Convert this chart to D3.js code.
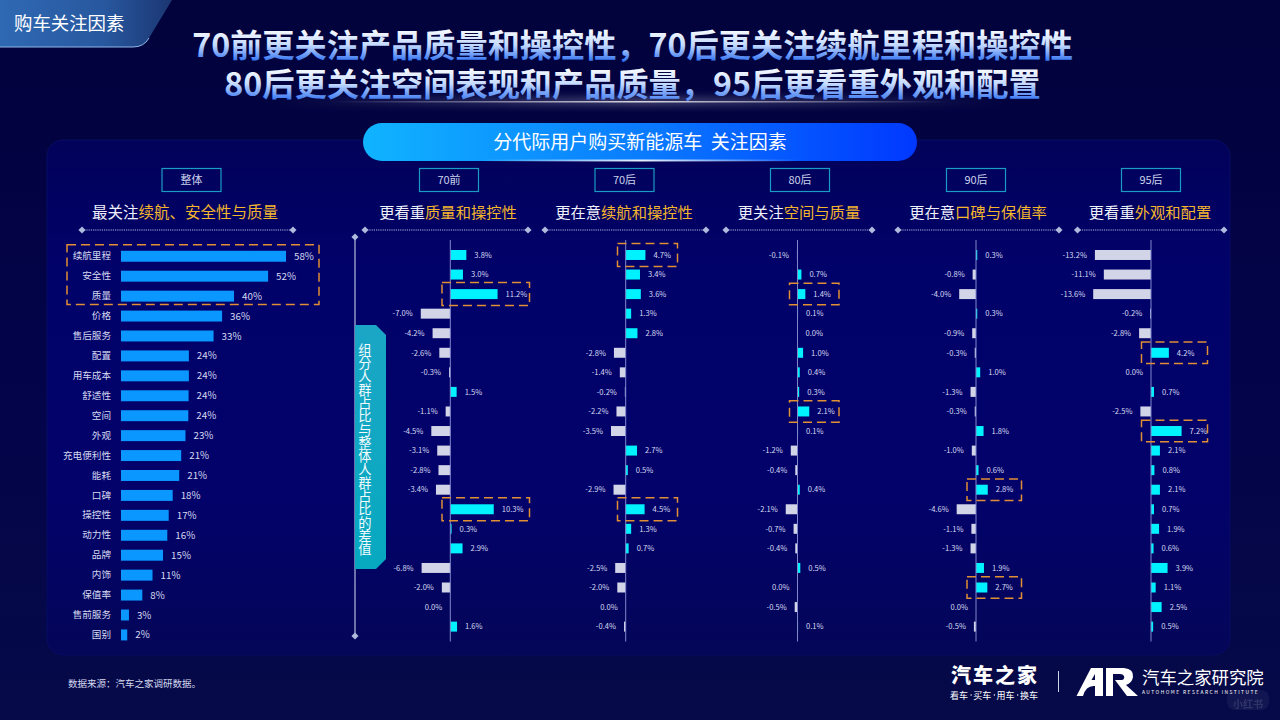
<!DOCTYPE html>
<html>
<head>
<meta charset="utf-8">
<title>购车关注因素</title>
<script src="https://d3js.org/d3.v7.min.js"></script>
<style>
  html, body { margin: 0; padding: 0; background: #03033f; overflow: hidden; }
  svg { display: block; }
  text { font-family: "Noto Sans CJK SC", "Noto Sans", sans-serif; }
</style>
</head>
<body>
<div id="chart"></div>
<script>
// categories
var factors = ["续航里程","安全性","质量","价格","售后服务","配置","用车成本","舒适性","空间","外观","充电便利性","能耗","口碑","操控性","动力性","品牌","内饰","保值率","售前服务","国别"];

// overall share, labels are the rounded values
var overall = [58.1,51.8,39.8,35.6,32.6,23.9,23.9,23.8,23.7,22.7,21.2,20.5,18.2,16.8,16.3,14.8,11.1,7.5,2.8,2.2];

// difference to overall, -0.0 is a zero printed on the left of the axis
var gen70before = [3.8,3.0,11.2,-7.0,-4.2,-2.6,-0.3,1.5,-1.1,-4.5,-3.1,-2.8,-3.4,10.3,0.3,2.9,-6.8,-2.0,-0.0,1.6];
var gen70after = [4.7,3.4,3.6,1.3,2.8,-2.8,-1.4,-0.2,-2.2,-3.5,2.7,0.5,-2.9,4.5,1.3,0.7,-2.5,-2.0,-0.0,-0.4];
var gen80after = [-0.1,0.7,1.4,0.1,0.0,1.0,0.4,0.3,2.1,0.1,-1.2,-0.4,0.4,-2.1,-0.7,-0.4,0.5,-0.0,-0.5,0.1];
var gen90after = [0.3,-0.8,-4.0,0.3,-0.9,-0.3,1.0,-1.3,-0.3,1.8,-1.0,0.6,2.8,-4.6,-1.1,-1.3,1.9,2.7,-0.0,-0.5];
var gen95after = [-13.2,-11.1,-13.6,-0.2,-2.8,4.2,-0.0,0.7,-2.5,7.2,2.1,0.8,2.1,0.7,1.9,0.6,3.9,1.1,2.5,0.5];

// factors boxed in each generation
var marked70before = ["质量","操控性"];
var marked70after = ["续航里程","操控性"];
var marked80after = ["质量","空间"];
var marked90after = ["口碑","保值率"];
var marked95after = ["配置","外观"];
var markedOverall = ["续航里程","安全性","质量"];

var genNames = ["70前","70后","80后","90后","95后"];
var leadTexts = ["更看重","更在意","更关注","更在意","更看重"];
var focusTexts = ["质量和操控性","续航和操控性","空间与质量","口碑与保值率","外观和配置"];

var titleLines = ["70前更关注产品质量和操控性，70后更关注续航里程和操控性","80后更关注空间表现和产品质量，95后更看重外观和配置"];
var logoWords = ["看车","买车","用车","换车"];

// layout of the five small panels
var panels = [
  {values: gen70before, marked: marked70before, axisX: 450.3, k: 4.22, head: 449, sub: 448, rule: [365,528], box: [442,529.5], boxH: 23},
  {values: gen70after, marked: marked70after, axisX: 625.7, k: 4.2, head: 624.5, sub: 624, rule: [545,706], box: [617.5,677.5], boxH: 23},
  {values: gen80after, marked: marked80after, axisX: 797.5, k: 5.6, head: 800, sub: 799, rule: [726,872], box: [789.5,839], boxH: 21.5},
  {values: gen90after, marked: marked90after, axisX: 976, k: 4.2, head: 976, sub: 978, rule: [898,1059], box: [967,1021.5], boxH: 21.5},
  {values: gen95after, marked: marked95after, axisX: 1151, k: 4.25, head: 1151, sub: 1150, rule: [1077.5,1224], box: [1141.5,1207.5], boxH: 21.5}
];

var width = 1280, height = 720;
var svg = d3.select("#chart").append("svg").attr("width", width).attr("height", height);
var defs = svg.append("defs");

function gradient(id, x1, y1, x2, y2, stops, userSpace) {
  var g = defs.append("linearGradient").attr("id", id)
    .attr("x1", x1).attr("y1", y1).attr("x2", x2).attr("y2", y2);
  if (userSpace) g.attr("gradientUnits", "userSpaceOnUse");
  stops.forEach(function(s) {
    g.append("stop").attr("offset", s[0]).attr("stop-color", s[1]).attr("stop-opacity", s[2] === undefined ? 1 : s[2]);
  });
}

gradient("bg", 0, 0, 0, 1, [[0, "#02023c"], [0.5, "#03034a"], [1, "#060a48"]]);
gradient("panelFill", 0, 0, 0, 1, [[0, "#02025a"], [0.25, "#01016a"], [0.7, "#02026a"], [1, "#040658"]]);
gradient("tabFill", 0, 0, 1, 0, [[0, "#2f69b3"], [0.6, "#28589f"], [1, "#1b3672"]]);
gradient("pillFill", 0, 0, 1, 0, [[0, "#10b4ff"], [0.5, "#0a7cff"], [1, "#0038ff"]]);
gradient("ribbonFill", 0, 0, 0, 1, [[0, "#1ba6c6"], [1, "#06a9c0"]]);
gradient("title1", 0, 28, 0, 62, [[0, "#ffffff"], [0.5, "#c4dafF"], [1, "#2a6cf0"]], true);
gradient("title2", 0, 67, 0, 101, [[0, "#ffffff"], [0.5, "#c4dafF"], [1, "#2a6cf0"]], true);
gradient("glowLine", 0, 0, 1, 0, [[0, "#ffffff", 0], [0.5, "#ffffff", 1], [1, "#ffffff", 0]]);

defs.append("filter").attr("id", "blur4").attr("x", "-20%").attr("y", "-300%").attr("width", "140%").attr("height", "700%")
  .append("feGaussianBlur").attr("stdDeviation", 4);
defs.append("filter").attr("id", "soft").append("feGaussianBlur").attr("stdDeviation", 0.7);

svg.append("rect").attr("width", width).attr("height", height).attr("fill", "url(#bg)");

// big rounded panel
svg.append("rect").attr("x", 47).attr("y", 140).attr("width", 1183).attr("height", 515).attr("rx", 16)
  .attr("fill", "url(#panelFill)").attr("stroke", "#070c62").attr("stroke-width", 1);

// tab in the top left corner
svg.append("path").attr("d", "M0,0 H172 L149,38 Q144,47 133,47 H0 Z").attr("fill", "url(#tabFill)");
svg.append("path").attr("d", "M0,47 H133 Q144,47 149,38").attr("fill", "none").attr("stroke", "#8fb8ea").attr("stroke-width", 1);
svg.append("text").attr("x", 14).attr("y", 29.5).attr("fill", "#fff").attr("font-size", 18.4).text("购车关注因素");

// title
titleLines.forEach(function(line, i) {
  svg.append("text").attr("x", 632.5).attr("y", i == 0 ? 57 : 96)
    .attr("text-anchor", "middle").attr("font-size", 32.2).attr("font-weight", 700)
    .attr("fill", "url(#title" + (i + 1) + ")").text(line);
});

// glow under the title
svg.append("rect").attr("x", 270).attr("y", 99).attr("width", 740).attr("height", 5)
  .attr("fill", "url(#glowLine)").attr("opacity", 0.45).attr("filter", "url(#blur4)");
svg.append("rect").attr("x", 330).attr("y", 101).attr("width", 620).attr("height", 1.5)
  .attr("fill", "url(#glowLine)").attr("opacity", 0.8);

// pill heading
svg.append("rect").attr("x", 363).attr("y", 123).attr("width", 554).attr("height", 38).attr("rx", 19).attr("fill", "url(#pillFill)");
svg.append("rect").attr("x", 480).attr("y", 159.5).attr("width", 320).attr("height", 2)
  .attr("fill", "url(#glowLine)").attr("opacity", 0.9).attr("filter", "url(#soft)");
svg.append("text").attr("x", 640).attr("y", 149).attr("text-anchor", "middle").attr("fill", "#fff")
  .attr("font-size", 19).style("white-space", "pre").text("分代际用户购买新能源车  关注因素");

function headBox(cx, label) {
  svg.append("rect").attr("x", cx - 29.5).attr("y", 168.5).attr("width", 59).attr("height", 23)
    .attr("fill", "none").attr("stroke", "#1c9cc4").attr("stroke-width", 1.2);
  svg.append("text").attr("x", cx).attr("y", 184).attr("text-anchor", "middle")
    .attr("fill", "#c9d2ea").attr("font-size", 11).text(label);
}

function subHead(cx, lead, focus) {
  var t = svg.append("text").attr("x", cx).attr("y", 218).attr("text-anchor", "middle").attr("font-size", 15.3);
  t.append("tspan").attr("fill", "#eef0fa").text(lead);
  t.append("tspan").attr("fill", "#f4b62d").text(focus);
}

function diamond(x, y) {
  svg.append("path").attr("d", d3.symbol(d3.symbolDiamond2, 32)())
    .attr("transform", "translate(" + x + "," + y + ")")
    .attr("fill", "#aebbdd");
}

function rule(x0, x1) {
  svg.append("line").attr("x1", x0).attr("x2", x1).attr("y1", 230).attr("y2", 230)
    .attr("stroke", "#a9b6dc").attr("stroke-width", 1.2).attr("stroke-dasharray", "1.2 1");
  [x0, x1].forEach(function(x) { diamond(x, 230); });
}

function dashedBox(x0, x1, y0, y1) {
  svg.append("rect").attr("x", x0).attr("y", y0).attr("width", x1 - x0).attr("height", y1 - y0)
    .attr("fill", "none").attr("stroke", "#e08f35").attr("stroke-width", 1.5).attr("stroke-dasharray", "9 5");
}

// overall column
headBox(191.5, "整体");
var overallHead = svg.append("text").attr("x", 185).attr("y", 218).attr("text-anchor", "middle").attr("font-size", 15.5);
overallHead.append("tspan").attr("fill", "#eef0fa").text("最关注");
overallHead.append("tspan").attr("fill", "#f4b62d").text("续航、安全性与质量");
rule(82, 293);

var xOverall = d3.scaleLinear().domain([0, 58.1]).range([121, 286]);
var yOverall = d3.scaleBand().domain(factors).range([246.3, 644.9]).paddingInner(0.45).paddingOuter(0.225);

var overallAxis = svg.append("g").attr("transform", "translate(121,0)")
  .call(d3.axisLeft(yOverall).tickSize(0).tickPadding(10));
overallAxis.select(".domain").remove();
overallAxis.selectAll("text").attr("fill", "#d5d9f0").attr("font-size", 9.6)
  .style("font-family", '"Noto Sans CJK SC", sans-serif');

svg.append("g").selectAll("rect").data(overall).enter().append("rect")
  .attr("x", xOverall(0))
  .attr("y", function(d, i) { return yOverall(factors[i]); })
  .attr("width", function(d) { return xOverall(d) - xOverall(0); })
  .attr("height", yOverall.bandwidth())
  .attr("fill", "#0a97ff");

svg.append("g").selectAll("text").data(overall).enter().append("text")
  .attr("x", function(d) { return xOverall(d) + 8; })
  .attr("y", function(d, i) { return yOverall(factors[i]) + yOverall.bandwidth() / 2; })
  .attr("dy", "0.36em").attr("fill", "#d5d9f0").attr("font-size", 9.8)
  .text(function(d) { return d3.format(".0f")(d) + "%"; });

dashedBox(67, 319,
  yOverall(markedOverall[0]) - 6,
  yOverall(markedOverall[markedOverall.length - 1]) + yOverall.bandwidth() + 3);

// small panels
var yDiff = d3.scaleBand().domain(factors).range([245.2, 636.4]).paddingInner(0.49).paddingOuter(0.245);
// plain hyphen for the minus sign like the source
var fmt = d3.formatLocale({decimal: ".", thousands: ",", grouping: [3], currency: ["", ""], minus: "-"}).format(".1f");

panels.forEach(function(p, n) {
  headBox(p.head, genNames[n]);
  subHead(p.sub, leadTexts[n], focusTexts[n]);
  rule(p.rule[0], p.rule[1]);

  var x = d3.scaleLinear().domain([-15, 15]).range([p.axisX - 15 * p.k, p.axisX + 15 * p.k]);
  var g = svg.append("g");
  var onLeft = function(d) { return d < 0 || Object.is(d, -0); };

  g.selectAll("rect").data(p.values).enter().append("rect")
    .attr("x", function(d) { return Math.min(x(d), x(0)); })
    .attr("y", function(d, i) { return yDiff(factors[i]); })
    .attr("width", function(d) { return Math.abs(x(d) - x(0)); })
    .attr("height", yDiff.bandwidth())
    .attr("fill", function(d) { return d < 0 ? "#d2d4e8" : "#00f2ff"; });

  g.selectAll("text").data(p.values).enter().append("text")
    .attr("x", function(d) { return x(d) + (onLeft(d) ? -8 : 8); })
    .attr("y", function(d, i) { return yDiff(factors[i]) + yDiff.bandwidth() / 2; })
    .attr("dy", "0.36em")
    .attr("text-anchor", function(d) { return onLeft(d) ? "end" : "start"; })
    .attr("fill", "#d5d9f0").attr("font-size", 7.6)
    .text(function(d) { return fmt(d) + "%"; });

  svg.append("line").attr("x1", x(0)).attr("x2", x(0)).attr("y1", 240).attr("y2", 641.5)
    .attr("stroke", "#8088cc").attr("stroke-width", 1);

  p.marked.forEach(function(name) {
    var cy = yDiff(name) + yDiff.bandwidth() / 2;
    dashedBox(p.box[0], p.box[1], cy - p.boxH / 2, cy + p.boxH / 2);
  });
});

// side marker with the note
svg.append("line").attr("x1", 355).attr("x2", 355).attr("y1", 237).attr("y2", 636)
  .attr("stroke", "#a6aed2").attr("stroke-width", 1.3);
diamond(355, 237);
diamond(355, 636);
svg.append("path").attr("d", "M355,325 H376 L386,335 V559 L376,569 H355 Z").attr("fill", "url(#ribbonFill)");
svg.append("text").attr("x", 365).attr("y", 343).attr("fill", "#f2fbff").attr("font-size", 13.3)
  .style("writing-mode", "vertical-rl").text("组分人群占比与整体人群占比的差值");

// footer
svg.append("text").attr("x", 68).attr("y", 687).attr("fill", "#d5d9f0").attr("font-size", 9.5).text("数据来源：汽车之家调研数据。");
svg.append("text").attr("x", 951).attr("y", 683).attr("fill", "#fff").attr("font-size", 20).attr("font-weight", 900)
  .attr("letter-spacing", 2).text("汽车之家");
logoWords.forEach(function(w, i) {
  svg.append("text").attr("x", 950 + i * 23.3).attr("y", 699).attr("fill", "#fff").attr("font-size", 9).text(w);
  if (i > 0) svg.append("circle").attr("cx", 950 + i * 23.3 - 2.2).attr("cy", 695).attr("r", 0.7).attr("fill", "#fff");
});
svg.append("line").attr("x1", 1058.5).attr("x2", 1058.5).attr("y1", 671).attr("y2", 692).attr("stroke", "#cfd3ea").attr("stroke-width", 1);
svg.append("path").attr("fill", "#fff").attr("fill-rule", "evenodd").attr("d",
  "M1076.5,696 L1091,668 H1103 V696 H1095 V686 Q1086,685 1083,696 Z M1095,680 V674 L1091.5,680 Z " +
  "M1106,668 H1124 Q1134,669 1133,677 Q1132,683 1126,685 L1138,696 H1127 L1115,680 H1122 Q1125,679 1124,676 Q1123,674 1120,674 H1113 V696 H1106 Z");
svg.append("text").attr("x", 1142).attr("y", 684).attr("fill", "#fff").attr("font-size", 17.4).text("汽车之家研究院");
svg.append("text").attr("x", 1142).attr("y", 693.5).attr("fill", "#fff").attr("font-size", 4.9)
  .attr("letter-spacing", 1.45).text("AUTOHOME RESEARCH INSTITUTE");

// faint watermark
svg.append("rect").attr("x", 1227).attr("y", 690).attr("width", 42).attr("height", 20).attr("rx", 8).attr("fill", "#ffffff").attr("opacity", 0.05);
svg.append("text").attr("x", 1248).attr("y", 708).attr("text-anchor", "middle").attr("fill", "#ffffff").attr("opacity", 0.12)
  .attr("font-size", 10).attr("font-weight", 700).text("小红书");
</script>
</body>
</html>
